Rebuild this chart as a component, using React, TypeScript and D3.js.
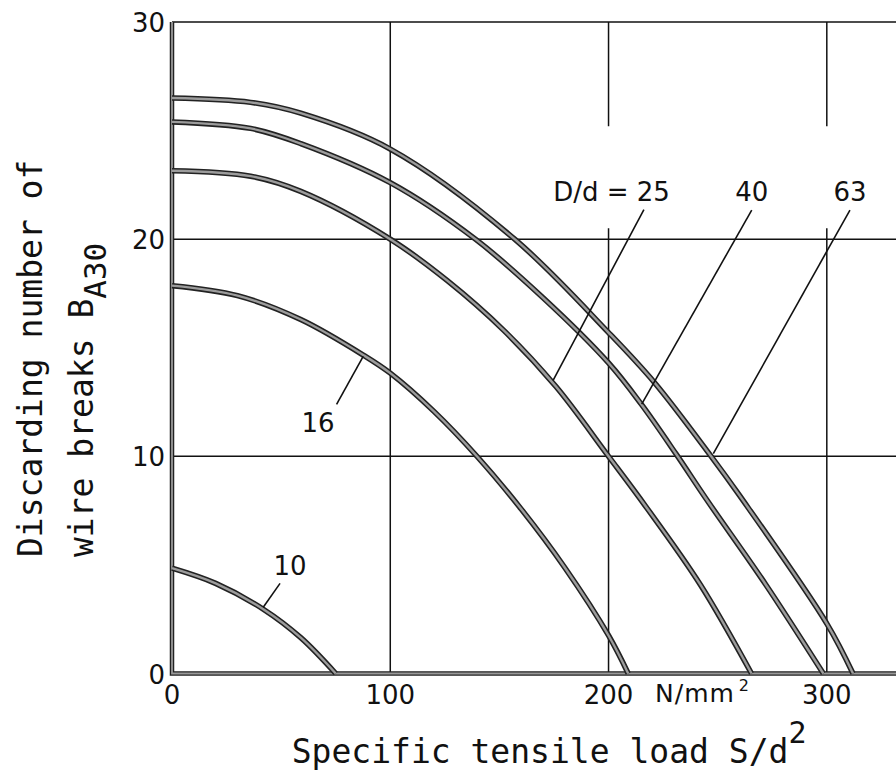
import React from "react";
import * as d3 from "d3";

// values (x: S/d² in N/mm², y: B_A30)
const xTicks = [0, 100, 200, 300];
const yTicks = [0, 10, 20, 30];
const xGrid = [100, 200, 300];
const yGrid = [10, 20];

const curve10 = [[0, 4.85], [20, 4.15], [42, 2.95], [59, 1.65], [75, 0]];
const curve16 = [[0, 17.86], [30, 17.4], [59, 16.3], [88, 14.64], [100, 13.83], [120, 12.07], [140, 9.97], [160, 7.57], [180, 4.87], [200, 1.75], [209, 0]];
const curve25 = [[0, 23.15], [36, 22.9], [59, 22.2], [100, 20], [126, 18.1], [152, 15.8], [176, 13.2], [200, 10], [217, 7.7], [242, 4.1], [265.5, 0]];
const curve40 = [[0, 25.4], [36, 25.1], [59, 24.4], [100, 22.6], [139, 20], [170, 17.3], [200, 14.3], [215, 12.4], [231, 10.1], [245, 8], [272, 4.1], [298.4, 0]];
const curve63 = [[0, 26.5], [36, 26.3], [59, 25.8], [100, 24.15], [157, 20], [200, 15.7], [221, 13.4], [247, 10], [260, 8.2], [300, 2.3], [312, 0]];
const curves = [curve10, curve16, curve25, curve40, curve63];

// leader lines: [label end, curve end]
const leaders = [
  [[49.5, 4.15], [41.8, 3.05]],
  [[87.6, 14.6], [75.4, 12.39]],
  [[216.2, 21.36], [174.6, 13.5]],
  [[265.6, 21.34], [215.2, 12.4]],
  [[310.6, 21.34], [248, 10.12]],
];
const labelText = ["10", "16", "D/d = 25", "40", "63"];
const labelPos = [[54.1, 4.53], [66.9, 11.12], [228.1, 21.77], [265.6, 21.77], [310.6, 21.77]];
const labelAnchor = ["middle", "middle", "end", "middle", "middle"];

const W = 896;
const H = 773;
const xMax = 331.7;

export default function App() {
  const x = d3.scaleLinear().domain([0, xMax]).range([172, 896]);
  const y = d3.scaleLinear().domain([0, 30]).range([673.5, 22]);
  const line = d3.line<number[]>().x(d => x(d[0])).y(d => y(d[1])).curve(d3.curveCatmullRom.alpha(0.5));
  const numFont = "DejaVu Sans";
  const titleFont = "DejaVu Sans Mono";

  return (
    <svg width={W} height={H} style={{ position: "absolute", left: 0, top: 0, background: "#fff" }}>
      {/* grid */}
      {xGrid.map(v =>
        v === 100 ? (
          <line key={v} x1={x(v)} x2={x(v)} y1={y(0)} y2={y(30)} stroke="#111" strokeWidth={1.5} />
        ) : (
          <g key={v}>
            <line x1={x(v)} x2={x(v)} y1={y(30)} y2={y(25.2)} stroke="#111" strokeWidth={1.5} />
            <line x1={x(v)} x2={x(v)} y1={y(20.5)} y2={y(0)} stroke="#111" strokeWidth={1.5} />
          </g>
        )
      )}
      {yGrid.map(v => (
        <line key={v} x1={x(0)} x2={x(xMax)} y1={y(v)} y2={y(v)} stroke="#111" strokeWidth={1.5} />
      ))}
      <line x1={x(0)} x2={x(xMax)} y1={y(30)} y2={y(30)} stroke="#111" strokeWidth={1.6} />

      {/* axes */}
      <path d={`M${x(0)},${y(30)}V${y(0)}H${x(xMax)}`} fill="none" stroke="#222" strokeWidth={4.5} />
      <path d={`M${x(0)},${y(30)}V${y(0)}H${x(xMax)}`} fill="none" stroke="#999" strokeWidth={1.8} />

      {/* curves */}
      {curves.map((c, i) => (
        <g key={i}>
          <path d={line(c) || ""} fill="none" stroke="#222" strokeWidth={5.5} />
          <path d={line(c) || ""} fill="none" stroke="#9c9c9c" strokeWidth={2.4} />
        </g>
      ))}

      {/* leaders and labels */}
      {leaders.map((l, i) => (
        <line key={i} x1={x(l[0][0])} y1={y(l[0][1])} x2={x(l[1][0])} y2={y(l[1][1])} stroke="#111" strokeWidth={1.6} />
      ))}
      {labelText.map((t, i) => (
        <text key={t} x={x(labelPos[i][0])} y={y(labelPos[i][1])} textAnchor={labelAnchor[i]}
          fontFamily={numFont} fontSize={26} fill="#111">{t}</text>
      ))}

      {/* tick labels */}
      {yTicks.map(v => (
        <text key={v} x={165} y={y(v) + 10} textAnchor="end" fontFamily={numFont} fontSize={26} fill="#111">{v}</text>
      ))}
      {xTicks.map(v => (
        <text key={v} x={x(v)} y={704} textAnchor="middle" fontFamily={numFont} fontSize={26} fill="#111">{v}</text>
      ))}
      <text x={x(221.3)} y={702} fontFamily={numFont} fontSize={25} fill="#111" letterSpacing={1}>
        N/mm<tspan fontSize={16} dy={-11} dx={4}>2</tspan>
      </text>

      {/* axis titles */}
      <text x={291.7} y={763} fontFamily={titleFont} fontSize={33} fill="#111">
        Specific tensile load S/d<tspan fontSize={30} dy={-20}>2</tspan>
      </text>
      <text transform="translate(42,557) rotate(-90)" fontFamily={titleFont} fontSize={33} fill="#111">
        Discarding number of
      </text>
      <text transform="translate(93,557) rotate(-90)" fontFamily={titleFont} fontSize={33} fill="#111">
        wire breaks B<tspan fontSize={31} dy={13}>A30</tspan>
      </text>
    </svg>
  );
}
